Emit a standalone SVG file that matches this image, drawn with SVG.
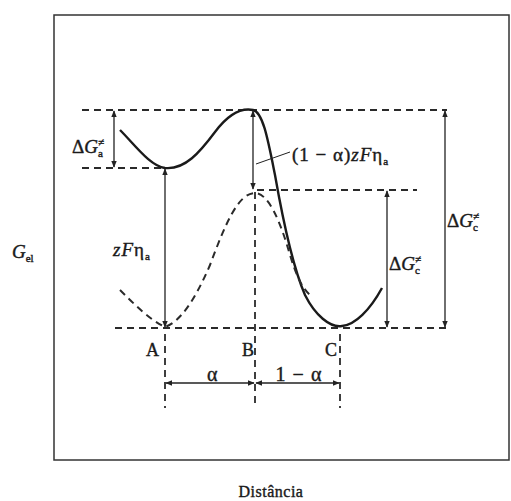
<svg xmlns="http://www.w3.org/2000/svg" width="511" height="501" viewBox="0 0 511 501">
<defs>
<marker id="ah" viewBox="0 0 10 10" refX="9" refY="5" markerWidth="7" markerHeight="7" orient="auto-start-reverse" markerUnits="userSpaceOnUse">
<path d="M0,1 L10,5 L0,9 Z" fill="#222"/>
</marker>
</defs>
<style>
.dash{stroke:#2a2a2a;stroke-width:1.8;fill:none;stroke-dasharray:7,5}
.arr{stroke:#222;stroke-width:1.3;fill:none;marker-start:url(#ah);marker-end:url(#ah)}
.curve{stroke:#1a1a1a;stroke-width:2.4;fill:none}
.dcurve{stroke:#2a2a2a;stroke-width:2;fill:none;stroke-dasharray:7,5}
text{font-family:"Liberation Serif","Times New Roman",serif;fill:#1a1a1a;stroke:#1a1a1a;stroke-width:0.4}
.it{font-style:italic}
</style>
<rect width="511" height="501" fill="#fff"/>
<rect id="frame" x="54" y="15" width="455" height="445" fill="none" stroke="#333" stroke-width="1.5"/>
<g id="guides">
<line class="dash" x1="82" y1="110" x2="447" y2="110"/>
<line class="dash" x1="82" y1="168" x2="165" y2="168"/>
<line class="dash" x1="257" y1="190" x2="417" y2="190"/>
<line class="dash" x1="115" y1="328" x2="447" y2="328"/>
<line class="dash" x1="165" y1="334" x2="165" y2="408"/>
<line class="dash" x1="255" y1="192" x2="255" y2="408"/>
<line class="dash" x1="340" y1="334" x2="340" y2="408"/>
</g>
<g id="curves">
<path class="curve" d="M120,130 C135,145 150,166 165,168 C185,170 200,152 215,132 C230,112 243,108 253,110 C263,112 268,140 275,175 C282,215 292,265 305,295 C315,315 330,328 342,326 C355,325 370,310 382,288"/>
<path class="dcurve" d="M120,290 C135,305 150,320 165,327 C180,322 195,300 210,265 C225,225 238,193 255,193 C268,193 280,220 290,255 C296,275 302,288 310,295"/>
</g>
<g id="connectors">
<line class="arr" x1="114" y1="111" x2="114" y2="167"/>
<line class="arr" x1="165" y1="169" x2="165" y2="327"/>
<line class="arr" x1="253" y1="111" x2="253" y2="189"/>
<line class="arr" x1="387" y1="191" x2="387" y2="327"/>
<line class="arr" x1="445" y1="111" x2="445" y2="327"/>
<line class="arr" x1="166" y1="383" x2="254" y2="383"/>
<line class="arr" x1="256" y1="383" x2="339" y2="383"/>
<line x1="256" y1="164" x2="290" y2="152" stroke="#222" stroke-width="1"/>
</g>
<g id="labels" font-size="19">
<text x="72" y="153">Δ<tspan class="it">G</tspan><tspan font-size="11" dy="-7">≠</tspan><tspan font-size="11" dx="-6" dy="11">a</tspan></text>
<text x="292" y="161" letter-spacing="1">(1 − α)<tspan class="it">zF</tspan>η<tspan font-size="11" dy="4">a</tspan></text>
<text x="113" y="256" class="it" letter-spacing="1">zF<tspan font-style="normal">η</tspan><tspan font-size="11" dy="4" font-style="normal">a</tspan></text>
<text x="12" y="258" class="it" font-size="19">G<tspan font-size="11" dy="4" font-style="normal">el</tspan></text>
<text x="389" y="270">Δ<tspan class="it">G</tspan><tspan font-size="11" dy="-7">≠</tspan><tspan font-size="11" dx="-6" dy="11">c</tspan></text>
<text x="447" y="227">Δ<tspan class="it">G</tspan><tspan font-size="11" dy="-7">≠</tspan><tspan font-size="11" dx="-6" dy="11">c</tspan></text>
<text x="146" y="356" font-size="18">A</text>
<text x="242" y="356" font-size="18">B</text>
<text x="325" y="356" font-size="18">C</text>
<text x="207" y="381" font-size="20">α</text>
<text x="299" y="381" text-anchor="middle" font-size="20" letter-spacing="1">1 − α</text>
<text x="271" y="497" text-anchor="middle" font-size="16" letter-spacing="0.5">Distância</text>
</g>
</svg>
